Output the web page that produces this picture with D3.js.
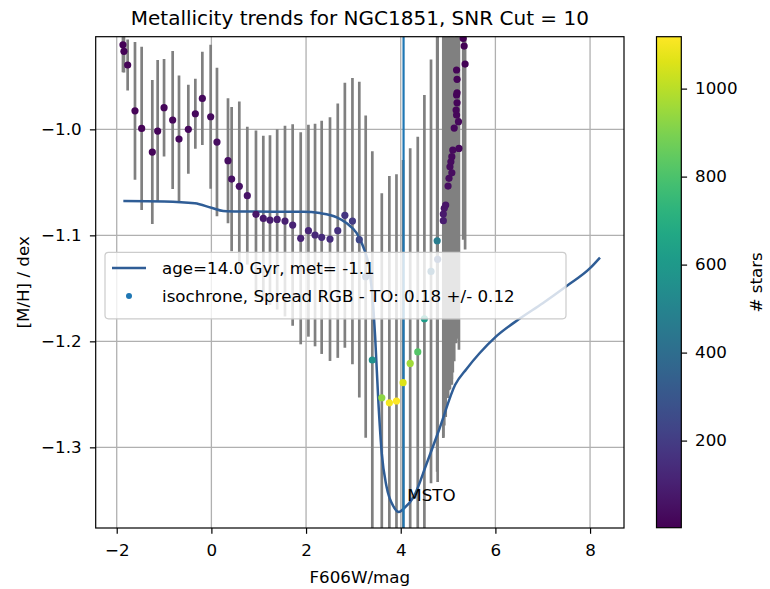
<!DOCTYPE html>
<html>
<head>
<meta charset="utf-8">
<script src="https://cdnjs.cloudflare.com/ajax/libs/d3/7.8.5/d3.min.js"></script>
<style>
  body { margin: 0; background: #fff; }
  svg  { display: block; font-family: "DejaVu Sans", sans-serif; }
</style>
</head>
<body>
<div id="chart"></div>
<script>
// ─────────────────────────────────────────────
// DATA
// ─────────────────────────────────────────────
const magBins = [-1.868, -1.847, -1.769, -1.614, -1.473, -1.248, -1.135, -1.0, -0.818, -0.684,
  -0.487, -0.339, -0.191, -0.015, 0.118, 0.351, 0.428, 0.59, 0.759, 0.942,
  1.097, 1.238, 1.39, 1.555, 1.717, 1.887, 2.05, 2.19, 2.33, 2.506,
  2.67, 2.82, 2.98, 3.125, 3.26, 3.4, 3.6, 3.76, 3.91, 4.05,
  4.2, 4.36, 4.5, 4.64, 4.77, 4.78, 4.9, 4.9, 4.92, 4.95,
  5.0, 5.02, 5.08, 5.04, 5.06, 5.08, 5.1, 5.23, 5.13, 5.22,
  5.18, 5.17, 5.19, 5.18, 5.19, 5.19, 5.18, 5.36, 5.34, 5.32];
const metMean = [-0.9202, -0.9264, -0.9393, -0.9825, -0.9991, -1.0214, -1.0016, -0.9796, -0.9912, -1.0092,
  -1.0, -0.9853, -0.9708, -0.9881, -1.012, -1.0296, -1.0469, -1.0538, -1.0626, -1.0802,
  -1.084, -1.0856, -1.085, -1.0865, -1.0903, -1.1028, -1.0956, -1.0997, -1.1019, -1.1035,
  -1.0956, -1.0811, -1.0865, -1.1041, -1.139, -1.2176, -1.2532, -1.258, -1.2563, -1.239,
  -1.2208, -1.21, -1.1787, -1.134, -1.1051, -1.1226, -1.0862, -1.0799, -1.0745, -1.0714,
  -1.0535, -1.0462, -1.041, -1.0353, -1.0306, -1.0258, -1.0195, -1.018, -0.9988, -0.9928,
  -0.9865, -0.9818, -0.975, -0.9676, -0.9655, -0.9528, -0.944, -0.9384, -0.9214, -0.9142];
const metErr = [0.026, 0.02, 0.024, 0.065, 0.077, 0.068, 0.067, 0.046, 0.065, 0.06,
  0.042, 0.033, 0.044, 0.068, 0.07, 0.059, 0.068, 0.08, 0.065, 0.079,
  0.078, 0.08, 0.085, 0.09, 0.095, 0.1, 0.1, 0.105, 0.11, 0.115,
  0.12, 0.125, 0.135, 0.149, 0.152, 0.197, 0.193, 0.214, 0.214, 0.21,
  0.203, 0.203, 0.211, 0.2, 0.218, 0.21, 0.205, 0.21, 0.205, 0.2,
  0.2, 0.2, 0.2, 0.21, 0.21, 0.21, 0.21, 0.19, 0.22, 0.2,
  0.21, 0.22, 0.22, 0.23, 0.23, 0.24, 0.25, 0.175, 0.18, 0.19];
const nStars = [8, 10, 12, 14, 15, 18, 18, 20, 22, 24,
  26, 28, 30, 34, 38, 45, 50, 55, 62, 70,
  78, 85, 92, 100, 108, 115, 122, 130, 138, 148,
  160, 175, 195, 240, 320, 560, 930, 1100, 1115, 1060,
  960, 820, 620, 380, 470, 300, 90, 80, 70, 65,
  45, 40, 38, 36, 34, 32, 30, 28, 26, 24,
  22, 20, 18, 16, 15, 14, 12, 10, 8, 6];

// isochrone age=14 Gyr, met=-1.1
const isoMag = [-1.86, -1.0, -0.35, 0.0, 0.25, 0.6, 1.3, 1.94, 2.29, 2.65, 2.86, 3.07, 3.21, 3.35, 3.42,
  3.46, 3.53, 3.6, 3.7, 3.85, 3.96, 4.06, 4.27, 4.55, 4.83, 5.15, 5.39, 5.67, 6.0, 6.5, 7.0, 7.5, 8.0, 8.21];
const isoMet = [-1.0676, -1.068, -1.0698, -1.074, -1.077, -1.0775, -1.0777, -1.0777, -1.079, -1.083, -1.0886,
  -1.098, -1.111, -1.136, -1.167, -1.196, -1.259, -1.306, -1.337, -1.356, -1.361, -1.358, -1.347, -1.315,
  -1.281, -1.241, -1.226, -1.211, -1.196, -1.179, -1.164, -1.148, -1.131, -1.121];

const msto = 4.06;
const xTicks  = [-2, 0, 2, 4, 6, 8];
const yTicks  = [-1.3, -1.2, -1.1, -1.0];
const cbTicks = [200, 400, 600, 800, 1000];

// ─────────────────────────────────────────────
// LAYOUT
// ─────────────────────────────────────────────
const W = 770, H = 589;
const L = 95.7, R = 624, T = 36.7, B = 528;
const FS = 16.7;

const x  = d3.scaleLinear().domain([-2.444, 8.717]).range([L, R]);
const y  = d3.scaleLinear().domain([-1.3761, -0.9126]).range([B, T]);
const col = d3.scaleSequential(d3.interpolateViridis).domain([2, 1118]);
const cbY = d3.scaleLinear().domain([2, 1118]).range([527.7, 36.7]);

const svg = d3.select('#chart').append('svg')
  .attr('width', W).attr('height', H);

svg.append('defs').append('clipPath').attr('id', 'clip')
  .append('rect').attr('x', L).attr('y', T).attr('width', R - L).attr('height', B - T);

// grid
const grid = svg.append('g').attr('stroke', '#b0b0b0').attr('stroke-width', 1.3);
grid.selectAll('.gx').data(xTicks).enter().append('line')
  .attr('x1', d => x(d)).attr('x2', d => x(d)).attr('y1', T).attr('y2', B);
grid.selectAll('.gy').data(yTicks).enter().append('line')
  .attr('y1', d => y(d)).attr('y2', d => y(d)).attr('x1', L).attr('x2', R);

const pts = magBins.map((m, i) => ({ m, v: metMean[i], e: metErr[i], n: nStars[i] }));
const plot = svg.append('g').attr('clip-path', 'url(#clip)');

// error bars
plot.append('g').selectAll('line').data(pts).enter().append('line')
  .attr('x1', d => x(d.m)).attr('x2', d => x(d.m))
  .attr('y1', d => y(d.v - d.e)).attr('y2', d => y(d.v + d.e))
  .attr('stroke', '#808080').attr('stroke-width', 2.7);

// isochrone
plot.append('path')
  .datum(isoMag.map((m, i) => [m, isoMet[i]]))
  .attr('d', d3.line().x(d => x(d[0])).y(d => y(d[1])).curve(d3.curveMonotoneX))
  .attr('fill', 'none').attr('stroke', '#2f5d96').attr('stroke-width', 2.5);

// MSTO vertical line
plot.append('line')
  .attr('x1', x(msto)).attr('x2', x(msto)).attr('y1', T).attr('y2', B)
  .attr('stroke', '#1f77b4').attr('stroke-width', 2.2);

// scatter
plot.append('g').selectAll('circle').data(pts).enter().append('circle')
  .attr('cx', d => x(d.m)).attr('cy', d => y(d.v)).attr('r', 3.6)
  .attr('fill', d => col(d.n));

svg.append('text')
  .attr('x', x(4.14)).attr('y', y(-1.351))
  .attr('font-size', FS).text('MSTO');

// legend
const leg = svg.append('g');
leg.append('rect')
  .attr('x', 105).attr('y', 252.3).attr('width', 461).attr('height', 66.5).attr('rx', 3.5)
  .attr('fill', '#fff').attr('fill-opacity', 0.8).attr('stroke', '#cccccc').attr('stroke-width', 1.2);
leg.append('line').attr('x1', 112).attr('x2', 146).attr('y1', 268).attr('y2', 268)
  .attr('stroke', '#2f5d96').attr('stroke-width', 2.5);
leg.append('text').attr('x', 162).attr('y', 274).attr('font-size', FS)
  .text('age=14.0 Gyr, met= -1.1');
leg.append('circle').attr('cx', 129).attr('cy', 296).attr('r', 3).attr('fill', '#1f77b4');
leg.append('text').attr('x', 162).attr('y', 302).attr('font-size', FS)
  .text('isochrone, Spread RGB - TO: 0.18 +/- 0.12');

// axes
const xAxis = svg.append('g').attr('transform', `translate(0,${B})`)
  .call(d3.axisBottom(x).tickValues(xTicks).tickSize(5.8).tickPadding(10).tickFormat(d3.format('d')));
const yAxis = svg.append('g').attr('transform', `translate(${L},0)`)
  .call(d3.axisLeft(y).tickValues(yTicks).tickSize(5.8).tickPadding(8.3).tickFormat(d3.format('.1f')));
[xAxis, yAxis].forEach(a => {
  a.select('.domain').remove();
  a.selectAll('text').attr('font-size', FS).attr('font-family', '"DejaVu Sans", sans-serif').attr('fill', '#000');
  a.selectAll('.tick line').attr('stroke', '#000').attr('stroke-width', 1.2);
});

svg.append('rect')
  .attr('x', L).attr('y', T).attr('width', R - L).attr('height', B - T)
  .attr('fill', 'none').attr('stroke', '#000').attr('stroke-width', 1.2);

// labels
svg.append('text').attr('x', (L + R) / 2).attr('y', 25).attr('text-anchor', 'middle')
  .attr('font-size', 20).text('Metallicity trends for NGC1851, SNR Cut = 10');
svg.append('text').attr('x', (L + R) / 2).attr('y', 583).attr('text-anchor', 'middle')
  .attr('font-size', FS).text('F606W/mag');
svg.append('text').attr('transform', `translate(28.5,${(T + B) / 2}) rotate(-90)`)
  .attr('text-anchor', 'middle').attr('font-size', FS).text('[M/H] / dex');

// ─────────────────────────────────────────────
// COLORBAR
// ─────────────────────────────────────────────
const cbL = 656.5, cbW = 24.8;
const grad = svg.select('defs').append('linearGradient').attr('id', 'cbGrad')
  .attr('x1', 0).attr('x2', 0).attr('y1', 1).attr('y2', 0);
d3.range(0, 1.001, 0.05).forEach(t => {
  grad.append('stop').attr('offset', t).attr('stop-color', d3.interpolateViridis(t));
});
svg.append('rect').attr('x', cbL).attr('y', cbY.range()[1]).attr('width', cbW)
  .attr('height', cbY.range()[0] - cbY.range()[1])
  .attr('fill', 'url(#cbGrad)').attr('stroke', '#000').attr('stroke-width', 1.2);
const cbAxis = svg.append('g').attr('transform', `translate(${cbL + cbW},0)`)
  .call(d3.axisRight(cbY).tickValues(cbTicks).tickSize(5.8).tickPadding(8).tickFormat(d3.format('d')));
cbAxis.select('.domain').remove();
cbAxis.selectAll('text').attr('font-size', FS).attr('font-family', '"DejaVu Sans", sans-serif').attr('fill', '#000');
cbAxis.selectAll('.tick line').attr('stroke', '#000').attr('stroke-width', 1.2);
svg.append('text').attr('transform', `translate(762,${(T + B) / 2}) rotate(-90)`)
  .attr('text-anchor', 'middle').attr('font-size', FS).text('# stars');
</script>
</body>
</html>
